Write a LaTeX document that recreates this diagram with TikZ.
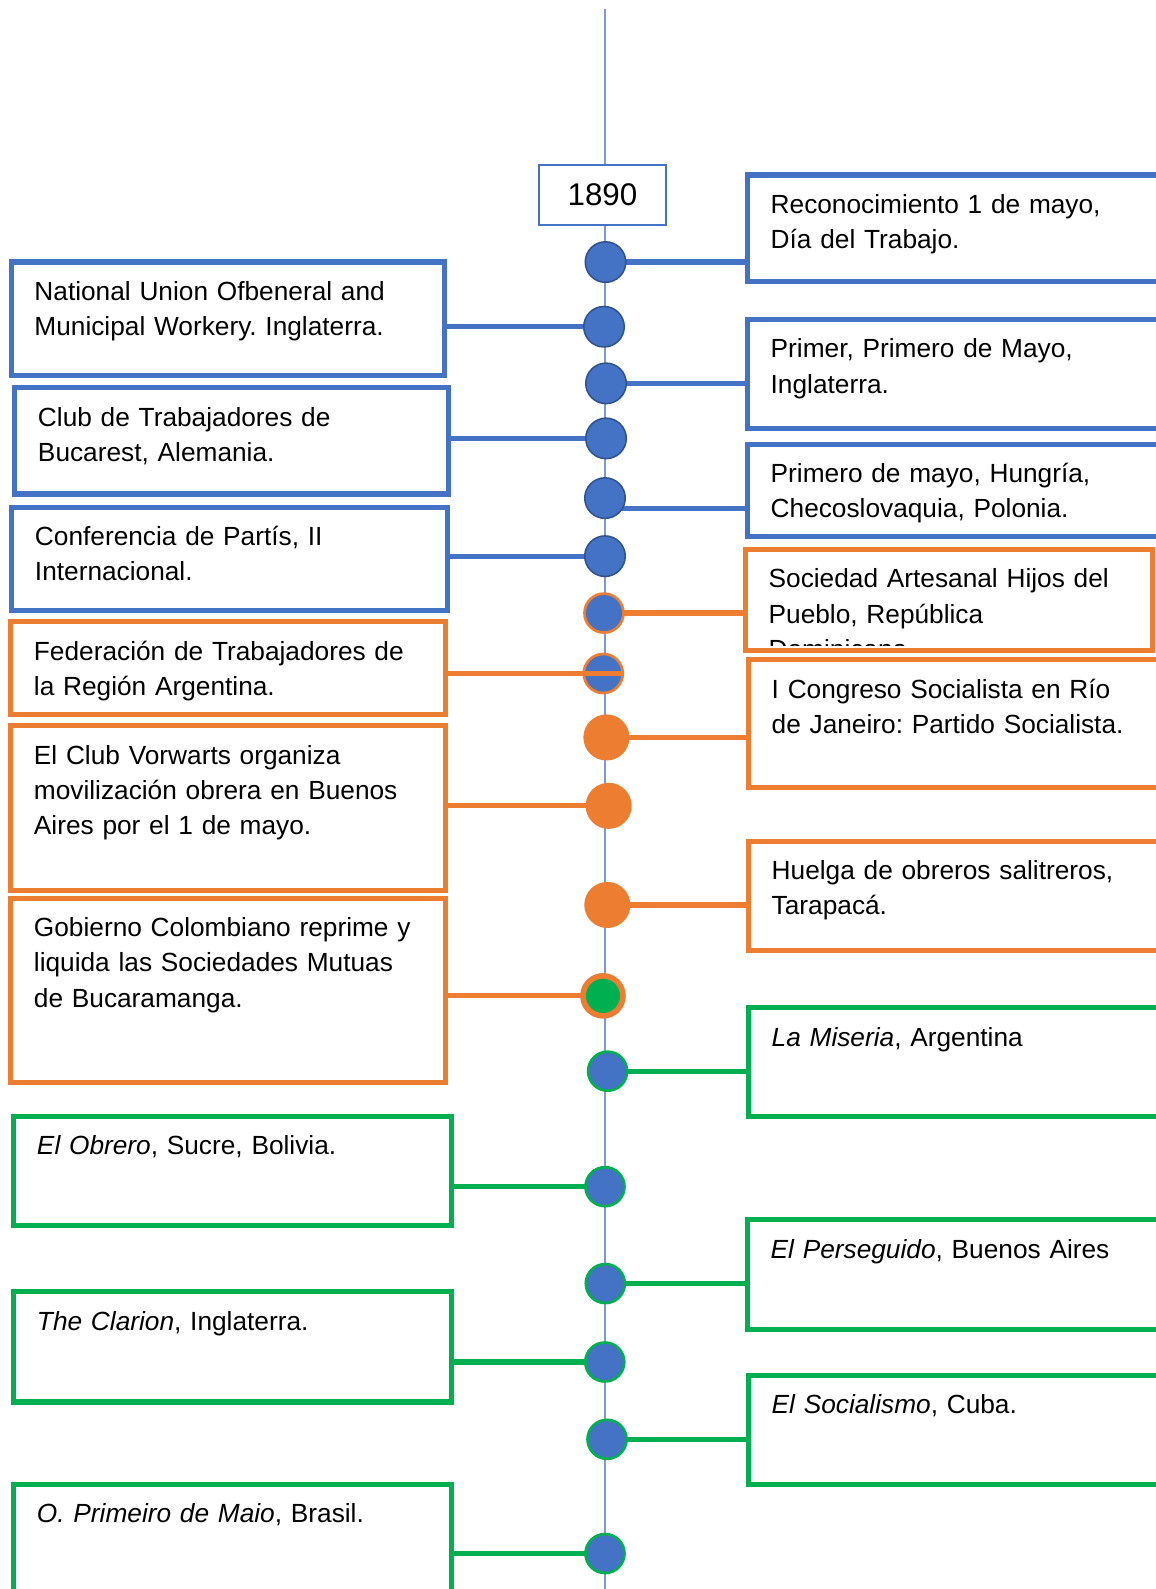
\documentclass[tikz,border=0pt]{standalone}
\usepackage{fontspec}
\setmainfont{Liberation Sans}
\usepackage{tikz}
\usetikzlibrary{backgrounds}
\definecolor{azul}{HTML}{4472C4}
\definecolor{azuloscuro}{HTML}{2F528F}
\definecolor{naranja}{HTML}{ED7D31}
\definecolor{verde}{HTML}{00B050}
\definecolor{linea}{HTML}{7A9AD8}
\newcommand{\fuente}{\fontsize{14.75pt}{19.7pt}\selectfont\frenchspacing}
\begin{document}
\begin{tikzpicture}[x=0.02cm,y=-0.02cm]
            \tikzstyle{caja}=[draw, line width=2.85pt, anchor=north west, outer sep=0pt, inner xsep=0.46cm, inner ysep=0pt, align=left, text height=0.76cm, font=\fuente]
            \tikzstyle{punto}=[circle, inner sep=0pt, outer sep=0pt, minimum size=0.8cm, fill=azul, draw=azuloscuro, line width=0.85pt]
            \tikzstyle{puntoo}=[punto, draw=naranja, line width=1.5pt, minimum size=0.77cm]
            \tikzstyle{puntof}=[punto, fill=naranja, draw=none, minimum size=0.91cm]
            \tikzstyle{puntov}=[punto, fill=verde, draw=naranja, line width=3.15pt, minimum size=0.79cm]
            \tikzstyle{puntog}=[punto, draw=verde, line width=1.5pt, minimum size=0.77cm]
            \tikzstyle{enlace}=[line width=2.95pt]
            \useasboundingbox (0,0) rectangle (1140,1568);
            \coordinate (arriba) at (597,9);
            \coordinate (abajo) at (597,1568);
            \node[draw=azul, fill=white, line width=1.1pt, minimum width=2.5cm, minimum height=1.18cm, inner sep=0pt, font=\fontsize{17.6pt}{21pt}\selectfont] (ano) at (594.5,192.5) {1890};

            \node[caja, draw=azul, text width=7.64cm, text depth=1.48cm] (l1) at (11,258.5) {National Union Ofbeneral and\\Municipal Workery. Inglaterra.};
            \node[caja, draw=azul, text width=7.64cm, text depth=1.34cm] (l2) at (14.5,382.5) {Club de Trabajadores de\\Bucarest, Alemania.};
            \node[caja, draw=azul, text width=7.68cm, text depth=1.28cm] (l3) at (11.5,500.5) {Conferencia de Partís, II\\Internacional.};
            \node[caja, draw=naranja, text width=7.66cm, text depth=1.08cm] (l4) at (10.5,613.5) {Federación de Trabajadores de\\la Región Argentina.};
            \node[caja, draw=naranja, text width=7.66cm, text depth=2.49cm] (l5) at (10.5,716) {El Club Vorwarts organiza\\movilización obrera en Buenos\\Aires por el 1 de mayo.};
            \node[caja, draw=naranja, text width=7.66cm, text depth=2.88cm] (l6) at (10.5,886.5) {Gobierno Colombiano reprime y\\liquida las Sociedades Mutuas\\de Bucaramanga.};
            \node[caja, draw=verde, text width=7.72cm, text depth=1.40cm] (l7) at (13.5,1101.5) {\textit{El Obrero}, Sucre, Bolivia.};
            \node[caja, draw=verde, text width=7.72cm, text depth=1.42cm] (l8) at (13.5,1274.5) {\textit{The Clarion}, Inglaterra.};
            \node[caja, draw=verde, text width=7.72cm, text depth=2.24cm] (l9) at (13.5,1464.5) {\textit{O. Primeiro de Maio}, Brasil.};

            \node[caja, draw=azul, text width=7.68cm, text depth=1.35cm] (r1) at (737.5,172.7) {Reconocimiento 1 de mayo,\\Día del Trabajo.};
            \node[caja, draw=azul, text width=7.68cm, text depth=1.39cm] (r2) at (737.5,315.2) {Primer, Primero de Mayo,\\Inglaterra.};
            \node[caja, draw=azul, text width=7.68cm, text depth=1.06cm] (r3) at (737.5,438.5) {Primero de mayo, Hungría,\\Checoslovaquia, Polonia.};
            \begin{scope}
                \clip (737,542.2) rectangle (1136,637);
                \node[caja, draw=none, text width=7.11cm, text depth=1.23cm] (r4) at (735.5,542.2) {Sociedad Artesanal Hijos del\\Pueblo, República\\Dominicana.};
            \end{scope}
            \draw[naranja, line width=2.85pt] (r4.north west) rectangle (r4.south east);
            \node[caja, draw=naranja, text width=7.68cm, text depth=1.77cm] (r5) at (738.5,651) {I Congreso Socialista en Río\\de Janeiro: Partido Socialista.};
            \node[caja, draw=naranja, text width=7.68cm, text depth=1.39cm] (r6) at (738.5,830) {Huelga de obreros salitreros,\\Tarapacá.};
            \node[caja, draw=verde, text width=7.68cm, text depth=1.38cm] (r7) at (738.5,994.5) {\textit{La Miseria}, Argentina};
            \node[caja, draw=verde, text width=7.68cm, text depth=1.40cm] (r8) at (737.5,1203.5) {\textit{El Perseguido}, Buenos Aires};
            \node[caja, draw=verde, text width=7.68cm, text depth=1.40cm] (r9) at (738.5,1357) {\textit{El Socialismo}, Cuba.};

            \node[punto] (c1) at (597.5,258.6) {};
            \node[punto] (c2) at (596,322.4) {};
            \node[punto] (c3) at (598,378.3) {};
            \node[punto] (c4) at (598,432.6) {};
            \node[punto] (c5) at (597,491.5) {};
            \node[punto] (c6) at (597,548.8) {};
            \node[puntoo] (c7) at (596,605) {};
            \node[puntoo] (c8) at (595.3,664.6) {};
            \node[puntof] (c9) at (598.4,727.7) {};
            \node[puntof] (c10) at (600.6,795.2) {};
            \node[puntof] (c11) at (599.3,893) {};
            \node[puntov] (c12) at (595,982.7) {};
            \node[puntog] (c13) at (599.6,1057) {};
            \node[puntog] (c14) at (597,1171) {};
            \node[puntog] (c15) at (597.3,1266.6) {};
            \node[puntog] (c16) at (596.8,1344) {};
            \node[puntog] (c17) at (599,1420.3) {};
            \node[puntog] (c18) at (597,1533) {};
            \coordinate (k5) at (597,502);

            \draw[enlace, naranja] (c7) -- (c7 -| r4.west);
            \draw[enlace, naranja] (l4.east |- c8) -- (c8.east);
            \draw[enlace, naranja] (l6.east |- c12) -- (c12);
            \draw[enlace, verde] (c13) -- (c13 -| r7.west);
            \draw[enlace, verde] (c15) -- (c15 -| r8.west);
            \draw[enlace, verde] (c17) -- (c17 -| r9.west);

            \begin{scope}[on background layer]
                \draw[linea, line width=0.8pt] (arriba) -- (abajo);
                \draw[enlace, azul] (c1) -- (c1 -| r1.west);
                \draw[enlace, azul] (l1.east |- c2) -- (c2);
                \draw[enlace, azul] (c3) -- (c3 -| r2.west);
                \draw[enlace, azul] (l2.east |- c4) -- (c4);
                \draw[enlace, azul] (k5) -- (k5 -| r3.west);
                \draw[enlace, azul] (l3.east |- c6) -- (c6);
                \draw[enlace, naranja] (c9) -- (c9 -| r5.west);
                \draw[enlace, naranja] (l5.east |- c10) -- (c10);
                \draw[enlace, naranja] (c11) -- (c11 -| r6.west);
                \draw[enlace, verde] (l7.east |- c14) -- (c14);
                \draw[enlace, verde] (l8.east |- c16) -- (c16);
                \draw[enlace, verde] (l9.east |- c18) -- (c18);
            \end{scope}
        \end{tikzpicture}
\end{document}
